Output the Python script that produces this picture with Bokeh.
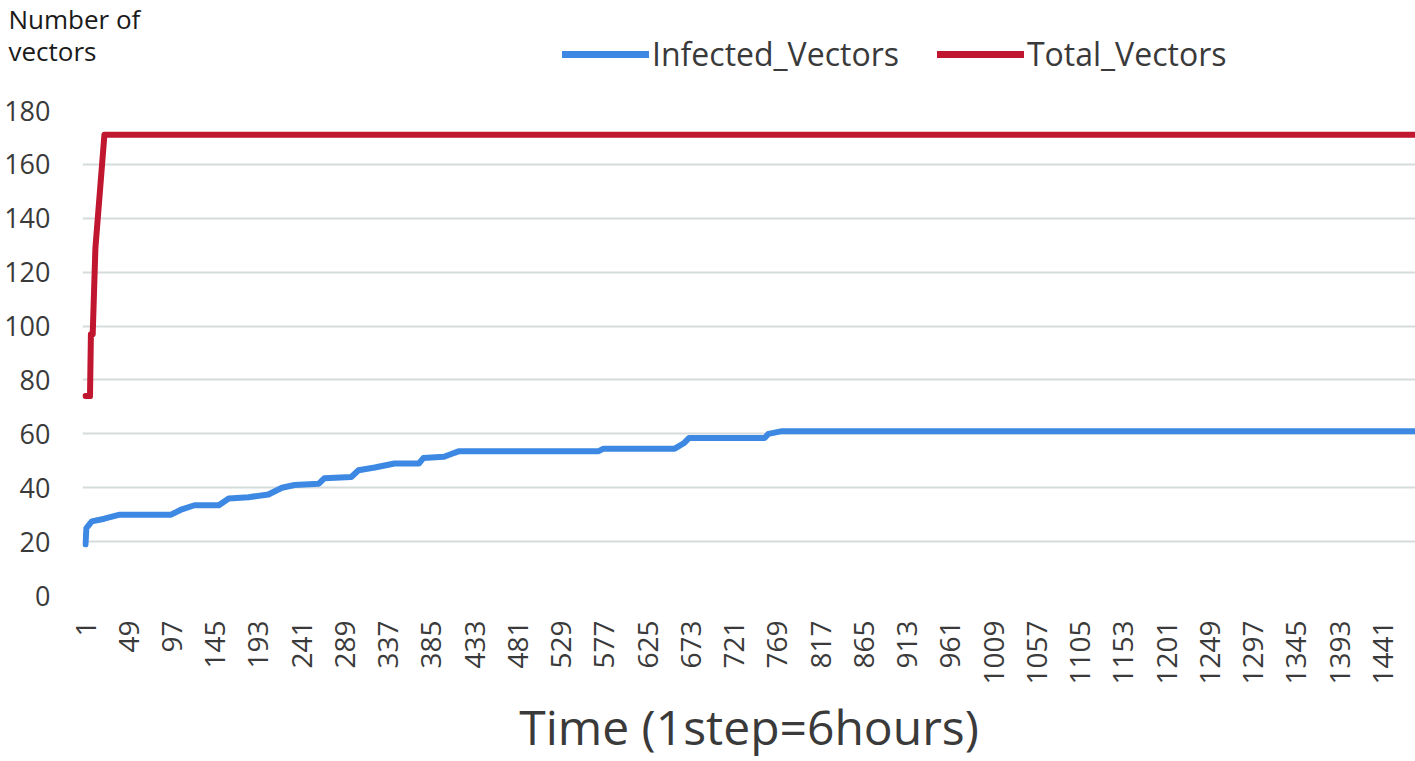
import math
from bokeh.plotting import figure
from bokeh.models import (Range1d, FixedTicker, Legend, LegendItem, Label)
from bokeh.layouts import column
from bokeh.embed import file_html
from bokeh.resources import INLINE

# ---- data ----
infected_steps = [1, 2, 8, 22, 39, 96, 108, 122, 149, 160, 182, 204, 219, 233,
                  260, 266, 296, 304, 322, 344, 371, 376, 399, 407, 415, 570,
                  576, 655, 665, 671, 755, 759, 774, 1477]
infected_vals = [19, 25, 27.5, 28.5, 30, 30, 32, 33.5, 33.5, 36, 36.5, 37.5, 40,
                 41, 41.5, 43.5, 44, 46.5, 47.5, 49, 49, 51, 51.5, 52.5, 53.5,
                 53.5, 54.5, 54.5, 56.5, 58.5, 58.5, 60, 61, 61]

total_steps = [1, 6, 7, 9, 12, 22, 1477]
total_vals = [74, 74, 97, 97, 129, 171, 171]

x_ticks = [1, 49, 97, 145, 193, 241, 289, 337, 385, 433, 481, 529, 577, 625,
           673, 721, 769, 817, 865, 913, 961, 1009, 1057, 1105, 1153, 1201,
           1249, 1297, 1345, 1393, 1441]
y_ticks = [0, 20, 40, 60, 80, 100, 120, 140, 160, 180]

series_names = ["Infected_Vectors", "Total_Vectors"]
y_title_lines = ["Number of", "vectors"]
x_title = "Time (1step=6hours)"

blue = "#3D88E3"
red = "#C0162F"
FONT = "Open Sans"
TXT = "#3a3a3a"
W = 1415
NAN = float("nan")

# ---------------- header strip: y-title and legend ----------------
HH = 90
ph = figure(width=W, height=HH, output_backend="svg", toolbar_location=None,
            x_range=Range1d(0, W), y_range=Range1d(0, HH),
            x_axis_location=None, y_axis_location=None,
            min_border_left=0, min_border_right=0, min_border_top=0,
            min_border_bottom=0)
ph.frame_align = False
ph.outline_line_color = None
ph.xgrid.grid_line_color = None
ph.ygrid.grid_line_color = None

# legend swatches only (no visible data in this strip)
lr_inf = ph.line([NAN], [NAN], line_color=blue, line_width=7, line_cap="round")
lr_tot = ph.line([NAN], [NAN], line_color=red, line_width=7, line_cap="round")

legend = Legend(items=[LegendItem(label=series_names[0], renderers=[lr_inf]),
                       LegendItem(label=series_names[1], renderers=[lr_tot])],
                orientation="horizontal", location=(562, 15))
legend.background_fill_alpha = 0
legend.border_line_alpha = 0
legend.padding = 0
legend.margin = 0
legend.spacing = 38
legend.label_standoff = 3
legend.glyph_width = 87
legend.glyph_height = 30
legend.label_height = 30
legend.label_text_font = FONT
legend.label_text_font_size = "32px"
legend.label_text_color = TXT
ph.add_layout(legend)

for txt, yy in ((y_title_lines[0], 72), (y_title_lines[1], 40)):
    ph.add_layout(Label(x=8, y=yy, text=txt, text_font=FONT,
                        text_font_size="26px", text_color="#1a1a1a",
                        text_baseline="alphabetic", text_align="left"))

# ---------------- main chart ----------------
p = figure(width=W, height=671, output_backend="svg", toolbar_location=None,
           x_range=Range1d(-2.33, 1477.2), y_range=Range1d(0, 180),
           min_border_left=82, min_border_right=0, min_border_top=20,
           min_border_bottom=166)
p.frame_align = False
p.outline_line_color = None

p.line(infected_steps, infected_vals, line_color=blue, line_width=6,
       line_join="round", line_cap="round")
p.line(total_steps, total_vals, line_color=red, line_width=6,
       line_join="round", line_cap="round")

p.xgrid.grid_line_color = None
p.ygrid.ticker = FixedTicker(ticks=y_ticks)
p.ygrid.grid_line_color = "#d6dcdc"
p.ygrid.grid_line_width = 2

ya = p.yaxis[0]
ya.ticker = FixedTicker(ticks=y_ticks)
ya.axis_line_color = None
ya.major_tick_line_color = None
ya.minor_tick_line_color = None
ya.major_tick_out = 0
ya.major_tick_in = 0
ya.major_label_standoff = 32
ya.major_label_text_font = FONT
ya.major_label_text_font_size = "27px"
ya.major_label_text_color = TXT

xa = p.xaxis[0]
xa.ticker = FixedTicker(ticks=x_ticks)
xa.axis_line_color = None
xa.major_tick_line_color = None
xa.minor_tick_line_color = None
xa.major_tick_out = 0
xa.major_tick_in = 0
xa.major_label_orientation = math.pi / 2
xa.major_label_standoff = 25
xa.major_label_text_font = FONT
xa.major_label_text_font_size = "28px"
xa.major_label_text_color = TXT
xa.axis_label = x_title
xa.axis_label_text_font = FONT
xa.axis_label_text_font_size = "48px"
xa.axis_label_text_font_style = "normal"
xa.axis_label_text_color = TXT
xa.axis_label_standoff = 6

layout = column(ph, p, spacing=0)
open("out.html", "w").write(file_html(layout, INLINE))
